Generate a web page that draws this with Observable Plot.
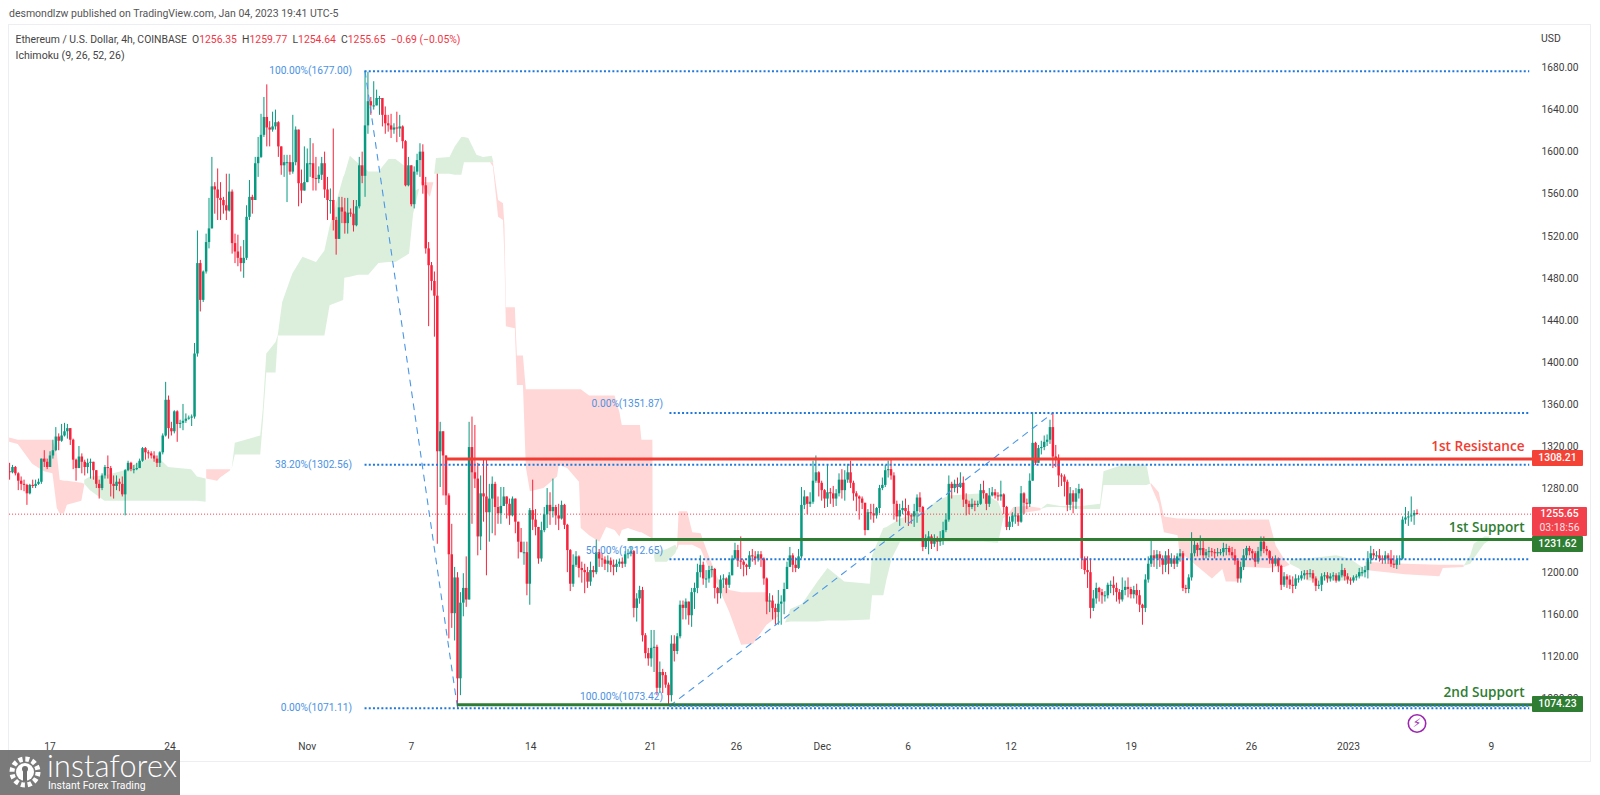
<!DOCTYPE html>
<html><head><meta charset="utf-8">
<script src="https://cdn.jsdelivr.net/npm/d3@7"></script>
<script src="https://cdn.jsdelivr.net/npm/@observablehq/plot@0.6"></script>
<style>
html,body{margin:0;padding:0;background:#fff;width:1600px;height:795px;overflow:hidden;font-family:Roboto,sans-serif}
#wrap{position:relative;width:1600px;height:795px}
#wrap svg{display:block}
.abs{position:absolute;white-space:nowrap}
.tag{position:absolute;left:1532px;width:51px;text-align:center;color:#fff;font-size:10.4px;font-weight:500;line-height:16px;height:16px;border-radius:1px}
</style></head><body><div id="wrap"></div>
<script>
// bars as close, high, low triples, four hours apart; each open is the previous close
const firstOpen = 1296;
const barsOctA = [1295,1304,1288, 1300,1302,1294, 1294,1301,1292, 1287,1295,1278, 1284,1291,1278, 1283,1288,1277, 1275,1284,1264, 1283,1284,1274, 1282,1288,1280, 1284,1288,1280, 1286,1289,1283, 1308,1308,1284, 1305,1316,1300, 1300,1308,1298, 1311,1315,1300, 1316,1326,1308, 1329,1338,1315, 1325,1332,1316, 1330,1341,1324, 1334,1342,1329, 1337,1341,1327, 1326,1337,1321, 1307,1327,1298, 1299,1308,1287, 1310,1320,1299, 1305,1313,1294, 1300,1307,1292, 1304,1308,1294, 1305,1308,1289, 1297,1305,1288, 1284,1297,1280, 1280,1288,1270, 1292,1294,1278, 1300,1302,1289, 1299,1311,1289, 1284,1301,1272, 1282,1292,1270, 1286,1292,1278, 1284,1289,1277, 1274,1291,1272, 1297,1298,1254, 1304,1306,1296, 1298,1305,1296, 1298,1302,1294, 1299,1304,1297, 1306,1308,1299, 1318,1319,1305, 1314,1319,1307, 1313,1316,1308, 1311,1315,1308, 1308,1315,1305, 1304,1311,1300, 1314,1315,1300, 1330,1332,1312, 1364,1381,1329, 1337,1368,1327, 1334,1343,1330, 1353,1354,1332, 1341,1354,1324, 1342,1345,1337, 1344,1360,1335, 1346,1351,1342, 1347,1349,1345, 1348,1350,1339, 1408,1418,1346];
const barsOctB = [1494,1525,1405, 1459,1497,1448, 1486,1487,1457, 1514,1522,1484, 1527,1556,1508, 1567,1595,1527, 1564,1571,1541, 1556,1584,1535, 1554,1571,1535, 1549,1557,1541, 1544,1579,1535, 1562,1579,1543, 1513,1564,1503, 1505,1522,1494, 1499,1521,1491, 1494,1510,1486, 1499,1516,1480, 1538,1549,1497, 1557,1573,1535, 1554,1559,1541, 1589,1595,1554, 1595,1614,1576, 1616,1636,1594, 1633,1652,1614, 1623,1664,1605, 1621,1629,1605, 1624,1638,1619, 1628,1640,1621, 1605,1629,1595, 1587,1605,1578, 1590,1597,1576, 1590,1597,1552, 1581,1597,1578, 1590,1635,1579, 1621,1624,1587, 1570,1619,1548, 1563,1583,1551, 1571,1605,1563, 1589,1603,1571, 1589,1613,1576, 1575,1608,1563, 1574,1595,1563, 1578,1586,1570, 1589,1595,1573, 1564,1600,1556, 1554,1576,1535, 1554,1565,1541, 1535,1622,1525, 1517,1538,1502, 1547,1557,1521, 1543,1557,1532, 1532,1556,1522, 1542,1556,1522, 1541,1546,1538, 1530,1554,1524, 1548,1554,1529, 1587,1595,1546, 1577,1600,1570, 1625,1677,1557, 1648,1676,1617, 1644,1652,1635, 1644,1667,1640, 1651,1659,1644, 1651,1653,1635, 1635,1651,1624, 1627,1643,1617, 1625,1635,1619, 1621,1636,1613, 1623,1627,1617, 1622,1638,1609, 1624,1635,1614, 1610,1625,1603, 1568,1611,1567, 1587,1595,1567, 1550,1587,1548, 1581,1586,1546, 1592,1598,1578, 1600,1608,1576, 1568,1607,1560, 1508,1576,1503, 1492,1514,1434, 1477,1495,1468, 1463,1486,1424];
const barsNovA = [1315,1579,1227, 1334,1343,1281, 1311,1334,1273, 1273,1308,1264, 1217,1275,1137, 1161,1246,1147, 1195,1205,1135, 1099,1200,1071, 1171,1181,1083, 1185,1199,1158, 1174,1215,1167, 1319,1343,1174, 1295,1348,1246, 1289,1340,1280, 1234,1304,1216, 1275,1292,1221, 1272,1307,1248, 1257,1307,1197, 1270,1284,1229, 1284,1291,1237, 1262,1286,1235, 1256,1272,1246, 1263,1281,1246, 1272,1281,1265, 1265,1272,1251, 1254,1270,1245, 1270,1272,1253, 1248,1270,1237, 1229,1248,1213, 1219,1242,1219, 1219,1229,1207, 1189,1229,1178, 1259,1261,1169, 1250,1288,1240, 1243,1260,1235, 1213,1243,1208, 1240,1248,1210, 1255,1262,1238, 1264,1280,1242, 1258,1276,1245, 1262,1289,1252, 1254,1264,1245, 1251,1265,1240, 1264,1268,1250, 1245,1265,1241, 1221,1246,1200, 1189,1222,1182, 1207,1217,1186, 1215,1220,1205, 1204,1216,1195, 1202,1210,1190, 1200,1208,1180, 1191,1205,1185, 1202,1210,1187, 1200,1206,1195, 1219,1231,1198, 1213,1222,1205, 1212,1218,1205, 1208,1215,1202, 1211,1216,1200, 1207,1214,1200, 1205,1212,1197, 1208,1212,1200, 1210,1213,1205, 1208,1214,1204, 1217,1220,1205, 1218,1222,1213, 1220,1224,1215, 1166,1221,1157];
const barsNovB = [1175,1180,1153, 1183,1187,1170, 1140,1186,1134, 1123,1142,1118, 1118,1128,1111, 1128,1145,1110, 1129,1145,1105, 1090,1131,1083, 1105,1115,1085, 1102,1108,1085, 1093,1105,1090, 1083,1095,1073, 1132,1140,1077, 1125,1140,1115, 1139,1142,1122, 1169,1173,1137, 1166,1173,1155, 1172,1175,1155, 1159,1172,1150, 1181,1185,1148, 1185,1190,1165, 1200,1208,1180, 1207,1216,1195, 1194,1210,1188, 1194,1202,1185, 1202,1206,1190, 1203,1206,1195, 1185,1204,1175, 1180,1186,1170, 1193,1197,1175, 1194,1198,1185, 1188,1195,1180, 1197,1200,1185, 1213,1216,1197, 1221,1228,1212, 1211,1226,1205, 1210,1234,1203, 1207,1212,1196, 1205,1208,1197, 1216,1220,1203, 1215,1222,1210, 1213,1220,1207, 1217,1220,1210, 1213,1220,1205, 1194,1214,1188, 1172,1195,1160, 1173,1180,1162, 1166,1178,1155, 1162,1170,1150, 1170,1183,1150, 1172,1178,1150, 1184,1190,1160, 1205,1210,1184, 1216,1224,1205, 1207,1218,1200, 1204,1214,1200, 1215,1222,1203];
const barsDecA = [1264,1281,1213, 1272,1278,1260, 1265,1272,1255, 1267,1276,1262, 1287,1306,1265, 1295,1311,1285, 1285,1296,1272, 1278,1287,1268, 1270,1279,1261, 1276,1302,1262, 1275,1280,1265, 1270,1282,1262, 1275,1279,1263, 1288,1294,1272, 1278,1298,1270, 1288,1297,1268, 1295,1303,1285, 1285,1306,1280, 1275,1287,1268, 1272,1277,1258, 1270,1273,1250, 1266,1272,1260, 1240,1266,1235, 1257,1260,1240, 1256,1265,1250, 1254,1265,1247, 1261,1262,1251, 1280,1283,1256, 1283,1290,1278, 1297,1302,1281, 1298,1306,1290, 1292,1307,1288, 1265,1295,1250, 1253,1268,1248, 1259,1265,1244, 1261,1268,1255, 1258,1270,1247, 1254,1264,1244, 1253,1256,1246, 1258,1265,1243, 1271,1274,1247, 1262,1276,1257, 1224,1263,1220, 1232,1236,1222, 1234,1239,1217, 1227,1236,1222, 1232,1236,1224, 1229,1234,1220, 1232,1239,1225, 1240,1248,1226, 1250,1256,1238, 1284,1292,1248, 1280,1286,1270, 1284,1288,1276, 1281,1290,1275, 1285,1295,1280, 1269,1291,1262, 1265,1275,1254, 1262,1268,1255, 1265,1270,1260, 1264,1268,1258, 1265,1268,1262, 1278,1284,1264, 1275,1287,1270, 1265,1275,1259, 1273,1280,1262, 1276,1281,1272, 1273,1279,1270, 1272,1276,1268, 1274,1287,1268, 1262,1275,1255, 1243,1263,1240, 1248,1253,1240, 1254,1257,1243, 1254,1262,1246, 1248,1256,1244, 1275,1282,1247, 1266,1276,1255, 1265,1270,1260, 1287,1294,1262, 1323,1352,1287, 1304,1324,1302, 1318,1321,1304, 1319,1325,1312, 1324,1330,1316, 1326,1331,1320, 1338,1345,1322, 1310,1352,1299, 1307,1321,1300, 1292,1312,1281];
const barsDecB = [1291,1294,1282, 1286,1293,1272, 1264,1288,1258, 1275,1281,1259, 1267,1278,1256, 1275,1280,1260, 1279,1284,1270, 1213,1280,1203, 1202,1215,1198, 1200,1215,1185, 1166,1213,1156, 1175,1183,1163, 1185,1190,1170, 1181,1186,1172, 1178,1184,1170, 1178,1182,1172, 1188,1190,1175, 1188,1192,1180, 1185,1196,1178, 1181,1190,1172, 1174,1184,1170, 1183,1195,1172, 1186,1192,1178, 1184,1195,1176, 1179,1186,1175, 1183,1187,1175, 1178,1189,1170, 1169,1183,1162, 1166,1170,1150, 1193,1198,1162, 1208,1215,1190, 1216,1231,1205, 1213,1221,1205, 1217,1221,1203, 1213,1220,1205, 1207,1216,1198, 1216,1220,1200, 1208,1222,1198, 1213,1218,1205, 1208,1216,1203, 1215,1218,1205, 1218,1222,1210, 1185,1220,1182, 1184,1188,1180, 1195,1198,1180, 1218,1238,1192, 1226,1232,1215, 1221,1228,1215, 1223,1235,1216, 1216,1232,1212, 1219,1222,1213, 1220,1224,1214, 1219,1223,1215, 1218,1222,1213, 1219,1223,1215, 1219,1222,1216, 1223,1228,1215, 1223,1227,1216, 1219,1225,1216, 1216,1224,1213, 1211,1222,1207, 1194,1213,1190];
const barsJan = [1205,1210,1190, 1216,1222,1202, 1223,1225,1212, 1220,1225,1216, 1218,1222,1212, 1210,1220,1205, 1220,1224,1208, 1229,1234,1215, 1222,1234,1218, 1220,1225,1216, 1213,1221,1208, 1208,1215,1200, 1213,1216,1206, 1206,1214,1200, 1188,1207,1183, 1196,1200,1186, 1193,1198,1185, 1188,1197,1184, 1187,1196,1180, 1194,1198,1184, 1194,1197,1190, 1197,1201,1192, 1199,1202,1193, 1198,1202,1193, 1199,1203,1195, 1194,1202,1190, 1187,1196,1182, 1188,1192,1184, 1196,1199,1182, 1197,1200,1192, 1194,1200,1190, 1196,1199,1191, 1197,1200,1192, 1192,1199,1190, 1197,1200,1191, 1202,1208,1195, 1196,1204,1192, 1193,1199,1189, 1192,1195,1188, 1195,1197,1190, 1196,1198,1192, 1200,1204,1194, 1200,1205,1196, 1202,1206,1195, 1213,1220,1194, 1218,1225,1208, 1216,1222,1212, 1216,1220,1212, 1213,1222,1210, 1212,1216,1208, 1216,1220,1208, 1213,1218,1208, 1208,1221,1205, 1207,1216,1204, 1212,1216,1203, 1213,1216,1207, 1250,1253,1212, 1252,1262,1246, 1253,1258,1244, 1254,1272,1248, 1256.35,1259,1245, 1255.65,1259.77,1254.64];

// Ichimoku cloud patches: bar, upper span, lower span
const cloudRedA = [[0,1328,1324],[3,1326,1322],[8,1326,1303],[12,1326,1296],[15,1326,1294],[16.5,1313,1261],[17.5,1288,1256],[19,1287,1256],[20,1287,1264],[25,1285,1268],[26,1284,1283]];
const cloudGreenA = [[26,1288,1284],[28,1291,1278],[33,1292,1268],[40,1297,1268],[46,1307,1268],[52,1308,1268],[55,1300,1268],[63,1298,1268],[65,1291,1268],[68,1289,1267]];
const cloudRedB = [[68.2,1298,1289],[72,1298,1287],[73,1298,1290],[76.5,1298,1297]];
const cloudGreenB = [[77,1298,1298],[78.1,1323,1312],[86.9,1330,1312],[87.8,1356,1343],[89,1408,1390],[92.2,1419,1390],[93,1426,1425],[94.5,1457,1425],[98,1484,1425],[101.5,1500,1425],[106.2,1495,1425],[109.1,1506,1425],[110.9,1529,1454],[115.6,1576,1459],[116,1578,1480],[117.9,1596,1481],[120.8,1589,1483],[124.3,1581,1483],[127.8,1581,1494],[131.3,1593,1495],[133.7,1593,1495],[138.4,1583,1503],[139.8,1562,1541],[141.9,1565,1565]];
const cloudRedC = [[142.5,1571,1571],[143.6,1571,1565],[145.6,1571,1557],[146.8,1571,1571]];
const cloudGreenC = [[147.1,1579,1579],[147.7,1594,1579],[152.4,1595,1579],[154.2,1605,1578],[156.5,1614,1578],[157.4,1614,1590],[158.9,1613,1590],[161.7,1597,1590],[164,1595,1590],[167,1596,1590],[167.6,1590,1590]];
const cloudRedD = [[166.4,1590,1590],[167.4,1590,1586],[169.2,1554,1538],[170.9,1551,1535],[171.4,1530,1500],[171.9,1452,1434],[175,1452,1432],[175.7,1406,1378],[177.8,1406,1378],[178.8,1374,1300],[180.2,1374,1277],[184.9,1374,1280],[189.6,1374,1291],[190.2,1374,1302],[193.1,1374,1299],[197.2,1374,1286],[197.8,1374,1242],[200.7,1368,1235],[204.2,1368,1229],[206.6,1368,1243],[209.5,1368,1240],[211.2,1352,1234],[212,1340,1240],[214.1,1340,1242],[218.3,1340,1238],[218.8,1326,1238],[222.6,1326,1232],[222.7,1232,1232]];
const cloudGreenD = [[223.2,1230,1215],[223.5,1219,1210],[227.6,1222,1210],[230.5,1226,1218],[231.2,1223,1223]];
const cloudRedE = [[231.1,1224,1221],[231.7,1258,1226],[234.6,1258,1226],[236.4,1238,1226],[239.3,1237,1222],[241.6,1219,1207],[245.2,1194,1187],[249.2,1183,1162],[253.3,1181,1131],[257.4,1181,1132],[262.1,1181,1150],[265,1165,1156],[266.2,1158,1158]];
const cloudGreenE = [[268.5,1152,1152],[270.3,1165,1153],[274.4,1170,1153],[279.7,1191,1153],[283.2,1204,1154],[289,1191,1154],[297.8,1189,1155],[298.6,1216,1178],[302.5,1242,1178],[303.6,1243,1193],[305.4,1246,1213],[308.3,1251,1229],[317.1,1259,1229],[320.6,1267,1229],[325.2,1273,1229],[337,1275,1229],[342.2,1267,1228],[344,1254,1251],[345.1,1254,1254]];
const cloudRedF = [[345.4,1254,1254],[347.5,1262,1254],[352.2,1263,1257],[356.9,1261,1259]];
const cloudGreenF = [[356.9,1260,1260],[359.2,1265,1262],[363.8,1263,1262],[371,1263,1260],[377.5,1265,1260],[378.7,1296,1283],[386.4,1303,1283],[393.6,1302,1283],[394.8,1284,1284]];
const cloudRedG = [[395,1285,1283],[397.8,1276,1265],[399.6,1253,1238],[404.3,1251,1235],[404.9,1251,1220],[416.2,1250,1194],[419.8,1250,1203],[421,1250,1191],[425.2,1250,1191],[427.6,1250,1205],[435.9,1250,1204],[438.3,1225,1205],[441.3,1212,1205],[443.1,1207,1207]];
const cloudGreenG = [[443.1,1212,1208],[446.6,1213,1203],[449,1213,1192],[459.2,1216,1192],[463.9,1213,1192],[468.1,1205,1197],[469.3,1200,1200]];
const cloudRedH = [[469.3,1210,1202],[483,1208,1198],[494.9,1207,1196],[496.1,1207,1204],[503.3,1207,1205]];
const cloudGreenH = [[503.3,1206,1206],[505.6,1216,1208],[506.8,1227,1213],[510.4,1234,1227],[512.2,1234,1230]];

const priceTicks = [1080,1120,1160,1200,1240,1280,1320,1360,1400,1440,1480,1520,1560,1600,1640,1680];
const timeTickBars = [14,55.5,103,139,180.3,221.8,251.5,281.2,310.9,346.5,388.1,429.7,463.3,512.7];
const timeTickLabels = ["17","24","Nov","7","14","21","26","Dec","6","12","19","26","2023","9"];

const fibLevels = [
  {p:1677,a:123,b:526,label:"100.00%(1677.00)",dy:0},
  {p:1302.56,a:123,b:526,label:"38.20%(1302.56)",dy:0},
  {p:1071.11,a:123,b:526,label:"0.00%(1071.11)",dy:0},
  {p:1351.87,a:228.5,b:526,label:"0.00%(1351.87)",dy:-9},
  {p:1212.65,a:228.5,b:526,label:"50.00%(1212.65)",dy:-9},
  {p:1073.42,a:228.5,b:526,label:"100.00%(1073.42)",dy:-9}
];
const fibTrendA = [[123,1677],[155,1071.11]];
const fibTrendB = [[228.5,1073.42],[361,1351.87]];
const levels = [
  {p:1308.21,a:151,name:"1st Resistance",color:"#f23c32"},
  {p:1231.62,a:214,name:"1st Support",color:"#2e7d32"},
  {p:1074.23,a:155,name:"2nd Support",color:"#2e7d32"}
];
const lastPrice = 1255.65;

const GREEN="#089981", RED="#f7233c";
const rows=[]; let prev=firstOpen;
for(const seg of [barsOctA,barsOctB,barsNovA,barsNovB,barsDecA,barsDecB,barsJan]){
  for(let k=0;k<seg.length;k+=3){
    const i=rows.length,c=seg[k],h=seg[k+1],l=seg[k+2],o=prev;
    rows.push({i,o,c,h:Math.max(h,c,o),l:Math.min(l,c,o),b1:Math.max(o,c),b2:Math.abs(o-c)<1?Math.max(o,c)-1:Math.min(o,c),up:c>=o});
    prev=c;
  }
}
const lastBar=rows.length-1;
const upBars=rows.filter(d=>d.up), downBars=rows.filter(d=>!d.up);
const cloud=(arr,fill)=>Plot.areaY(arr,{x:d=>d[0],y1:d=>d[1],y2:d=>d[2],fill});
const chart=Plot.plot({
  width:1600,height:795,marginLeft:9,marginRight:68,marginTop:25,marginBottom:62,
  style:{fontFamily:"Roboto,sans-serif",fontSize:"10.2px",color:"#3c3c3c",background:"transparent"},
  x:{domain:[-0.03,526.96],axis:null},
  y:{domain:[1047,1720.47],axis:null},
  marks:[
    ...[cloudGreenA,cloudGreenB,cloudGreenC,cloudGreenD,cloudGreenE,cloudGreenF,cloudGreenG,cloudGreenH].map(a=>cloud(a,"#dcefdc")),
    ...[cloudRedA,cloudRedB,cloudRedC,cloudRedD,cloudRedE,cloudRedF,cloudRedG,cloudRedH].map(a=>cloud(a,"#ffd7d7")),
    Plot.ruleY([lastPrice],{x1:0,x2:526.96,stroke:"#f23645",strokeWidth:1,strokeDasharray:"1 2"}),
    Plot.ruleX(upBars,{x:"i",y1:"l",y2:"h",stroke:GREEN,strokeWidth:1}),
    Plot.ruleX(downBars,{x:"i",y1:"l",y2:"h",stroke:RED,strokeWidth:1}),
    Plot.ruleX(upBars,{x:"i",y1:"b2",y2:"b1",stroke:GREEN,strokeWidth:2.5}),
    Plot.ruleX(downBars,{x:"i",y1:"b2",y2:"b1",stroke:RED,strokeWidth:2.5}),
    Plot.line(fibTrendA,{x:d=>d[0],y:d=>d[1],stroke:"#4a96e6",strokeWidth:1.1,strokeDasharray:"6 6"}),
    Plot.line(fibTrendB,{x:d=>d[0],y:d=>d[1],stroke:"#4a96e6",strokeWidth:1.1,strokeDasharray:"6 6"}),
    Plot.ruleY(levels,{y:"p",x1:"a",x2:526.96,stroke:"color",strokeWidth:3}),
    Plot.ruleY(fibLevels,{y:"p",x1:"a",x2:"b",stroke:"#1f78dc",strokeWidth:2,strokeDasharray:"2 2.2"}),
    Plot.text(fibLevels,{x:"a",y:"p",text:"label",dx:-13,textAnchor:"end",fill:"#4a92e4",fontSize:10.2,filter:d=>d.dy===0}),
    Plot.text(fibLevels,{x:"a",y:"p",text:"label",dx:-7,dy:-9,textAnchor:"end",fill:"#4a92e4",fontSize:10.2,filter:d=>d.dy!==0}),
    Plot.text(levels,{x:524.2,y:"p",text:"name",dy:-12,textAnchor:"end",fill:"color",fontSize:13.6,fontWeight:600,fontFamily:"Open Sans"}),
    Plot.dot([{i:lastBar,p:1056.5}],{x:"i",y:"p",r:8.7,stroke:"#9c27b0",strokeWidth:1.6,fill:"white"}),
    Plot.text([{i:lastBar,p:1056.5}],{x:"i",y:"p",text:d=>"\u26A1",fill:"#9c27b0",fontSize:12,fontFamily:"DejaVu Sans"}),
    Plot.axisY({anchor:"right",ticks:priceTicks,tickFormat:d=>d.toFixed(2),tickSize:0,tickPadding:9,label:null,fill:"#3c3c3c"}),
    Plot.axisX({anchor:"bottom",ticks:timeTickBars,tickFormat:d=>timeTickLabels[timeTickBars.indexOf(d)],tickSize:0,tickPadding:9,label:null,fill:"#3c3c3c"})
  ]
});
const wrap=document.getElementById("wrap");
wrap.appendChild(chart);
const yOf=v=>chart.scale("y").apply(v);
const add=html=>wrap.insertAdjacentHTML("beforeend",html);
add(`<div class="abs" style="left:8px;top:24px;width:1581px;height:736px;border:1px solid #eceef2;pointer-events:none"></div>`);
add(`<div class="abs" style="left:9px;top:7px;font-size:10.5px;color:#555">desmondlzw published on TradingView.com, Jan 04, 2023 19:41 UTC-5</div>`);
const R="#f23645";
add(`<div class="abs" style="left:15.5px;top:33px;font-size:10.4px;color:#444">Ethereum / U.S. Dollar, 4h, COINBASE&nbsp; O<span style="color:${R}">1256.35</span>&nbsp; H<span style="color:${R}">1259.77</span>&nbsp; L<span style="color:${R}">1254.64</span>&nbsp; C<span style="color:${R}">1255.65</span>&nbsp; <span style="color:${R}">\u22120.69 (\u22120.05%)</span></div>`);
add(`<div class="abs" style="left:15.5px;top:49px;font-size:10.6px;color:#444">Ichimoku (9, 26, 52, 26)</div>`);
add(`<div class="abs" style="left:1541px;top:32px;font-size:10.4px;color:#3c3c3c">USD</div>`);
const tag=(v,t,bg,top)=>add(`<div class="tag" style="top:${top ?? yOf(v)-8}px;background:${bg}">${t}</div>`);
add(`<div class="tag" style="top:${yOf(1255.65)-7}px;width:55px;height:29px;background:#f2404c;line-height:14px">1255.65<br><span style="opacity:.85;font-weight:400">03:18:56</span></div>`);
tag(1308.21,"1308.21","#f44336");
tag(1231.62,"1231.62","#2e7d32",yOf(1231.62)-3);
tag(1074.23,"1074.23","#2e7d32");
add(`<div class="abs" style="left:0;top:750px;width:180px;height:45px;background:rgba(112,112,112,.93);color:#fff;overflow:hidden">
<svg width="42" height="42" style="position:absolute;left:5px;top:2px"><circle cx="20" cy="20" r="13" fill="none" stroke="#fff" stroke-width="5" stroke-dasharray="4 2.8"/><circle cx="20" cy="20" r="9" fill="#fff"/><circle cx="20" cy="17" r="3" fill="#707070"/><rect x="18" y="19" width="4" height="10" fill="#707070"/></svg>
<div style="position:absolute;left:47px;top:-3px;font:300 30.5px Lato,sans-serif;letter-spacing:.2px">instaforex</div>
<div style="position:absolute;left:48px;top:29px;font-size:10.4px">Instant Forex Trading</div></div>`);
</script></body></html>
